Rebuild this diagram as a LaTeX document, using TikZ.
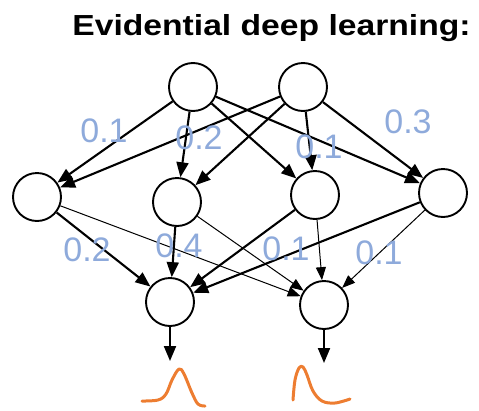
\documentclass[tikz,border=0pt]{standalone}
\usepackage{fontspec}
\setmainfont{Liberation Sans}
\usetikzlibrary{arrows.meta}
\definecolor{wblue}{HTML}{8EAADB}
\definecolor{corange}{HTML}{ED7D31}
\tikzset{
  neuron/.style={circle, draw=black, line width=1.9pt, minimum size=48pt, inner sep=0pt, fill=white},
  thickarr/.style={line width=2.1pt, -{Triangle[length=15pt,width=12pt]}},
  thinarr/.style={line width=1pt, -{Triangle[length=13pt,width=10pt]}},
  wlabel/.style={text=wblue, font=\fontsize{34}{40}\selectfont, inner sep=0pt, text depth=0pt},
  curve/.style={draw=corange, line width=3pt, line cap=round, line join=round},
}
\begin{document}
\begin{tikzpicture}[x=1pt,y=-1pt]
\useasboundingbox (0,0) rectangle (479,410);
% title
\node[anchor=base, inner sep=0pt, font=\bfseries\fontsize{29}{33}\selectfont, xscale=1.16] (title) at (271.5,35) {Evidential deep learning:};
% nodes
\node[neuron] (T1) at (193,87) {};
\node[neuron] (T2) at (303,87) {};
\node[neuron] (M1) at (37,197) {};
\node[neuron] (M2) at (177,202) {};
\node[neuron] (M3) at (315,195) {};
\node[neuron] (M4) at (443,193) {};
\node[neuron] (B1) at (170,302) {};
\node[neuron] (B2) at (324,305) {};
\coordinate (O1) at (170,361);
\coordinate (O2) at (324,363);
% top to middle
\foreach \s in {T1,T2}{
  \foreach \t in {M1,M2,M3,M4}{
    \draw[thickarr] (\s) -- (\t);
  }
}
% middle to bottom
\foreach \s in {M1,M2,M3,M4}{
  \draw[thickarr] (\s) -- (B1);
  \draw[thinarr] (\s) -- (B2);
}
% outputs
\draw[thickarr] (B1) -- (O1);
\draw[thickarr] (B2) -- (O2);
% weights
\node[wlabel] (w1) at (104,131) {0.1};
\node[wlabel] (w2) at (199,138) {0.2};
\node[wlabel] (w3) at (319,147) {0.1};
\node[wlabel] (w4) at (408,122) {0.3};
\node[wlabel] (w5) at (87,250) {0.2};
\node[wlabel] (w6) at (179,246) {0.4};
\node[wlabel] (w7) at (286,249) {0.1};
\node[wlabel] (w8) at (379,253) {0.1};
% distributions
\draw[curve] plot[smooth, tension=0.6] coordinates {(142,401) (158,400) (166,394) (172,380) (179,369) (184,374) (192,393) (198,404) (205,406)};
\draw[curve] plot[smooth, tension=0.6] coordinates {(293,400) (295,380) (299,368) (303,367) (307,375) (313,391) (322,401) (335,403) (350,399)};
\end{tikzpicture}
\end{document}
